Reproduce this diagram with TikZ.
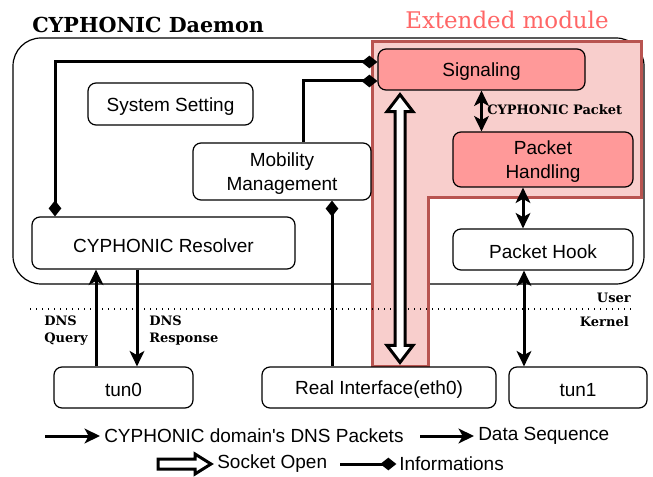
\documentclass[tikz,border=0pt]{standalone}
\usepackage{fontspec}
\setmainfont{Liberation Sans}
\newfontfamily\dvserif{DejaVu Serif}
\usetikzlibrary{arrows.meta,calc}
\definecolor{sigfill}{HTML}{FF9999}
\definecolor{extfill}{HTML}{F8CECC}
\definecolor{extline}{HTML}{B85450}
\definecolor{exttext}{HTML}{FF6666}
\newcommand{\lowt}[1]{\raisebox{-1.8pt}[\height][\depth]{#1}}
\begin{document}
\begin{tikzpicture}[x=0.75pt,y=-0.75pt,
  box/.style={draw=black, line width=0.9pt, rounded corners=6pt, fill=white, inner sep=0pt,
    font=\fontsize{14.25}{18}\selectfont, align=center},
  redbox/.style={box, fill=sigfill},
  conn/.style={line width=2.25pt},
  myarr/.tip={Stealth[length=11.5pt,width=11pt,inset=3pt]},
  mydia/.tip={Diamond[length=12pt,width=9.5pt]},
  lbl/.style={font=\dvserif\bfseries\fontsize{9.75}{12.75}\selectfont, inner sep=0pt, align=left},
  legtxt/.style={font=\fontsize{14.25}{18}\selectfont, inner sep=0pt, anchor=west},
  hollow/.style={line width=2.25pt, fill=white, line join=miter},
]
\useasboundingbox (0,0) rectangle (653,477);

% daemon frame
\draw[line width=0.9pt, rounded corners=21pt] (13,38) rectangle (644,284);
\node[font=\dvserif\bfseries\fontsize{15.5}{18}\selectfont, anchor=base west, inner sep=0pt] (title) at (32,33) {CYPHONIC Daemon};

% extended module region
\draw[extline, fill=extfill, line width=2.25pt] (372,42) -- (641,42) -- (641,198) -- (428,198) -- (428,366) -- (372,366) -- cycle;
\node[font=\dvserif\fontsize{17.2}{18}\selectfont, text=exttext, anchor=base west, inner sep=0pt] (ext) at (405,29) {Extended module};

% user / kernel separator
\draw[line width=0.8pt, dash pattern=on 0.8pt off 3.7pt] (30,309) -- (631,309);
\node[lbl, anchor=east] (usr) at (631,298) {User};
\node[lbl, anchor=east] (krn) at (629,322) {Kernel};

% boxes
\node[redbox, minimum width=155.25pt, minimum height=30.75pt] (sig) at (481.5,69.5) {\lowt{Signaling}};
\node[redbox, minimum width=135pt, minimum height=41.25pt] (ph) at (543,159.5) {\lowt{Packet}\\\lowt{Handling}};
\node[box, minimum width=135pt, minimum height=30.75pt] (hook) at (543,249.5) {\lowt{Packet Hook}};
\node[box, minimum width=123.75pt, minimum height=31.5pt] (sys) at (170.5,104) {\lowt{System Setting}};
\node[box, minimum width=133.5pt, minimum height=42.75pt] (mob) at (282,171.5) {\lowt{Mobility}\\\lowt{Management}};
\node[box, minimum width=197.25pt, minimum height=39pt] (res) at (163.5,243) {\lowt{CYPHONIC Resolver}};
\node[box, minimum width=104.25pt, minimum height=30.75pt] (tun0) at (123.5,387.5) {\lowt{tun0}};
\node[box, minimum width=175.5pt, minimum height=30.75pt] (eth) at (379,387.5) {\lowt{Real Interface(eth0)}};
\node[box, minimum width=103.5pt, minimum height=30.75pt] (tun1) at (578,387.5) {\lowt{tun1}};

% helper coordinates
\coordinate (xa) at (55,0);
\coordinate (ya) at (0,62);
\coordinate (xb) at (303,0);
\coordinate (yb) at (0,81);
\coordinate (xc) at (332,0);
\coordinate (xd) at (96,0);
\coordinate (xe) at (137,0);
\coordinate (xf) at (523,0);
\coordinate (xg) at (524,0);
\coordinate (xs) at (400,0);

% connectors
\draw[conn, {mydia}-{mydia}] (res.north -| xa) |- (sig.west |- ya);
\draw[conn, -{mydia}] (mob.north -| xb) |- (sig.west |- yb);
\draw[conn, {mydia}-] (mob.south -| xc) -- (eth.north -| xc);
\draw[conn, -{myarr}] (tun0.north -| xd) -- (res.south -| xd);
\draw[conn, -{myarr}] (res.south -| xe) -- (tun0.north -| xe);
\draw[conn, {myarr}-{myarr}] (sig.south) -- (ph.north -| sig.south);
\draw[conn, {myarr}-{myarr}] (ph.south -| xf) -- (hook.north -| xf);
\draw[conn, {myarr}-{myarr}] (hook.south -| xg) -- (tun1.north -| xg);

% socket open (hollow double arrow)
\coordinate (soT) at (sig.south -| xs);
\coordinate (soB) at (eth.north -| xs);
\draw[hollow] ($(soT)+(0,4)$) -- ($(soT)+(13,21)$) -- ($(soT)+(5,21)$) -- ($(soB)+(5,-21)$)
  -- ($(soB)+(13,-21)$) -- ($(soB)+(0,-4)$) -- ($(soB)+(-13,-21)$) -- ($(soB)+(-5,-21)$)
  -- ($(soT)+(-5,21)$) -- ($(soT)+(-13,21)$) -- cycle;

% labels
\node[lbl, anchor=west] (cpk) at (487,110) {CYPHONIC Packet};
\node[lbl, anchor=west] (dq) at (44,331) {DNS\\Query};
\node[lbl, anchor=west] (dr) at (149,331) {DNS\\Response};

% legend
\node[legtxt] (l1) at (104,436) {CYPHONIC domain\textquotesingle s DNS Packets};
\coordinate (l1s) at (45,436);
\draw[conn, -{myarr}] (l1s) -- ([xshift=-3pt]l1.west);
\node[legtxt] (l2) at (478,436) {Data Sequence};
\coordinate (l2s) at (420,436);
\draw[conn, -{myarr}] (l2s) -- ([xshift=-3pt]l2.west);
\node[legtxt] (l3) at (217,464) {Socket Open};
\coordinate (l3s) at (157,464);
\draw[hollow] ($(l3s)+(1,-5)$) -- ($(l3s)+(38,-5)$) -- ($(l3s)+(38,-10)$) -- ($(l3s)+(54,0)$)
  -- ($(l3s)+(38,10)$) -- ($(l3s)+(38,5)$) -- ($(l3s)+(1,5)$) -- cycle;
\node[legtxt] (l4) at (399,464) {Informations};
\coordinate (l4s) at (340,464);
\draw[conn, -{mydia}] (l4s) -- ([xshift=-2pt]l4.west);
\end{tikzpicture}
\end{document}
